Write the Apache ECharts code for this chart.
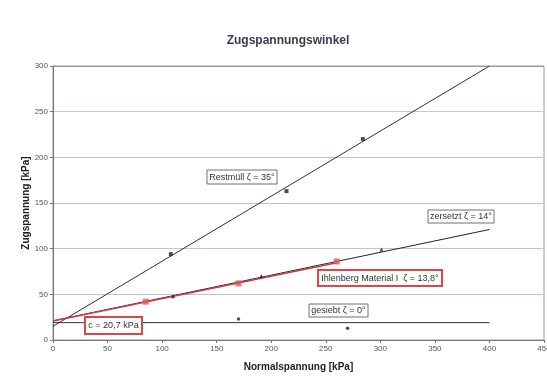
<!DOCTYPE html>
<html><head><meta charset="utf-8">
<script src="https://cdn.jsdelivr.net/npm/echarts@6/dist/echarts.min.js"></script>
<style>html,body{margin:0;padding:0;background:#fff}#c{width:547px;height:389px}</style>
</head><body><div id="c"></div>
<script>
var xTicks = [0,50,100,150,200,250,300,350,400,450];
var yTicks = [0,50,100,150,200,250,300];
var restmuellPoints = [[108,94],[214,163],[284,220]];
var restmuellLine = [[0,15],[400,300]];
var zersetztPoints = [[110,48],[191,70],[301,99]];
var zersetztLine = [[0,21],[400,121]];
var ihlenbergPoints = [[85,42],[170,62],[260,86]];
var ihlenbergLine = [[0,20.7],[260,84.6]];
var gesiebtPoints = [[170,23],[270,13]];
var gesiebtLine = [[0,19],[400,19]];

var chart = echarts.init(document.getElementById('c'), null, {renderer:'canvas'});
var font = 'Liberation Sans, Arial, sans-serif';
function box(x,y,w,h,text,red){
  return {type:'group', children:[
    {type:'rect', shape:{x:x,y:y,width:w,height:h}, style:{fill:'#fff', stroke: red?'#d9474a':'#707070', lineWidth: red?2:1}, z:10},
    {type:'text', style:{x:x+w/2, y:y+h/2+0.5, text:text, fill:'#333', font:'9px '+font, align:'center', verticalAlign:'middle'}, z:11}
  ]};
}
chart.setOption({
  animation:false,
  title:{text:'Zugspannungswinkel', left:283, top:30, textAlign:'center', textStyle:{fontFamily:font, fontSize:12, fontWeight:'bold', color:'#3a3a4c'}},
  grid:{left:53, right:3, top:66, bottom:49, show:true, borderColor:'#9a98a8', borderWidth:1, outerBoundsMode:'none', containLabel:false},
  xAxis:{type:'value', min:0, max:450, interval:50,
    name:'Normalspannung [kPa]', nameLocation:'middle', nameGap:22, nameMoveOverlap:false,
    nameTextStyle:{fontFamily:font, fontSize:10, fontWeight:'bold', color:'#222'},
    axisLine:{lineStyle:{color:'#777'}}, axisTick:{show:true, length:3, lineStyle:{color:'#777'}},
    axisLabel:{fontFamily:font, fontSize:8, color:'#555', margin:5, hideOverlap:false, formatter:function(v){return xTicks.indexOf(v)>=0?String(v):'';}},
    splitLine:{show:false}},
  yAxis:{type:'value', min:0, max:300, interval:50,
    name:'Zugspannung [kPa]', nameLocation:'middle', nameGap:22, nameRotate:90, nameMoveOverlap:false,
    nameTextStyle:{fontFamily:font, fontSize:10, fontWeight:'bold', color:'#222'},
    axisLine:{show:true, lineStyle:{color:'#777'}}, axisTick:{show:true, length:3, lineStyle:{color:'#777'}},
    axisLabel:{fontFamily:font, fontSize:8, color:'#555', margin:5, formatter:function(v){return yTicks.indexOf(v)>=0?String(v):'';}},
    splitLine:{show:true, lineStyle:{width:1, color:['#9a9aa8','#b6c3dc','#dfb8c2','#bcc2d4','#b6c8dc','#d6c2ca','#9a98a8']}}},
  series:[
    {type:'line', data:restmuellLine, symbol:'none', lineStyle:{color:'#2c3048', width:1}, z:3},
    {type:'line', data:zersetztLine, symbol:'none', lineStyle:{color:'#222', width:1}, z:3},
    {type:'line', data:ihlenbergLine, symbol:'none', lineStyle:{color:'#c83c44', width:1.5}, z:4},
    {type:'line', data:gesiebtLine, symbol:'none', lineStyle:{color:'#333', width:1}, z:3},
    {type:'scatter', data:restmuellPoints, symbol:'rect', symbolSize:4, itemStyle:{color:'#222'}, z:5},
    {type:'scatter', data:zersetztPoints, symbol:'triangle', symbolSize:4, itemStyle:{color:'#222'}, z:5},
    {type:'scatter', data:ihlenbergPoints, symbol:'rect', symbolSize:6, itemStyle:{color:'#e0555a'}, z:6},
    {type:'scatter', data:gesiebtPoints, symbol:'circle', symbolSize:3.5, itemStyle:{color:'#222'}, z:5}
  ],
  graphic:[
    box(207,170,70,14,'Restmüll ζ = 35°',false),
    box(428,210,66,13,'zersetzt ζ = 14°',false),
    box(318,270,124,16,'Ihlenberg Material I  ζ = 13,8°',true),
    box(309,304,59,13,'gesiebt ζ = 0°',false),
    box(85,317,57,17,'c = 20,7 kPa',true)
  ]
});
</script></body></html>
